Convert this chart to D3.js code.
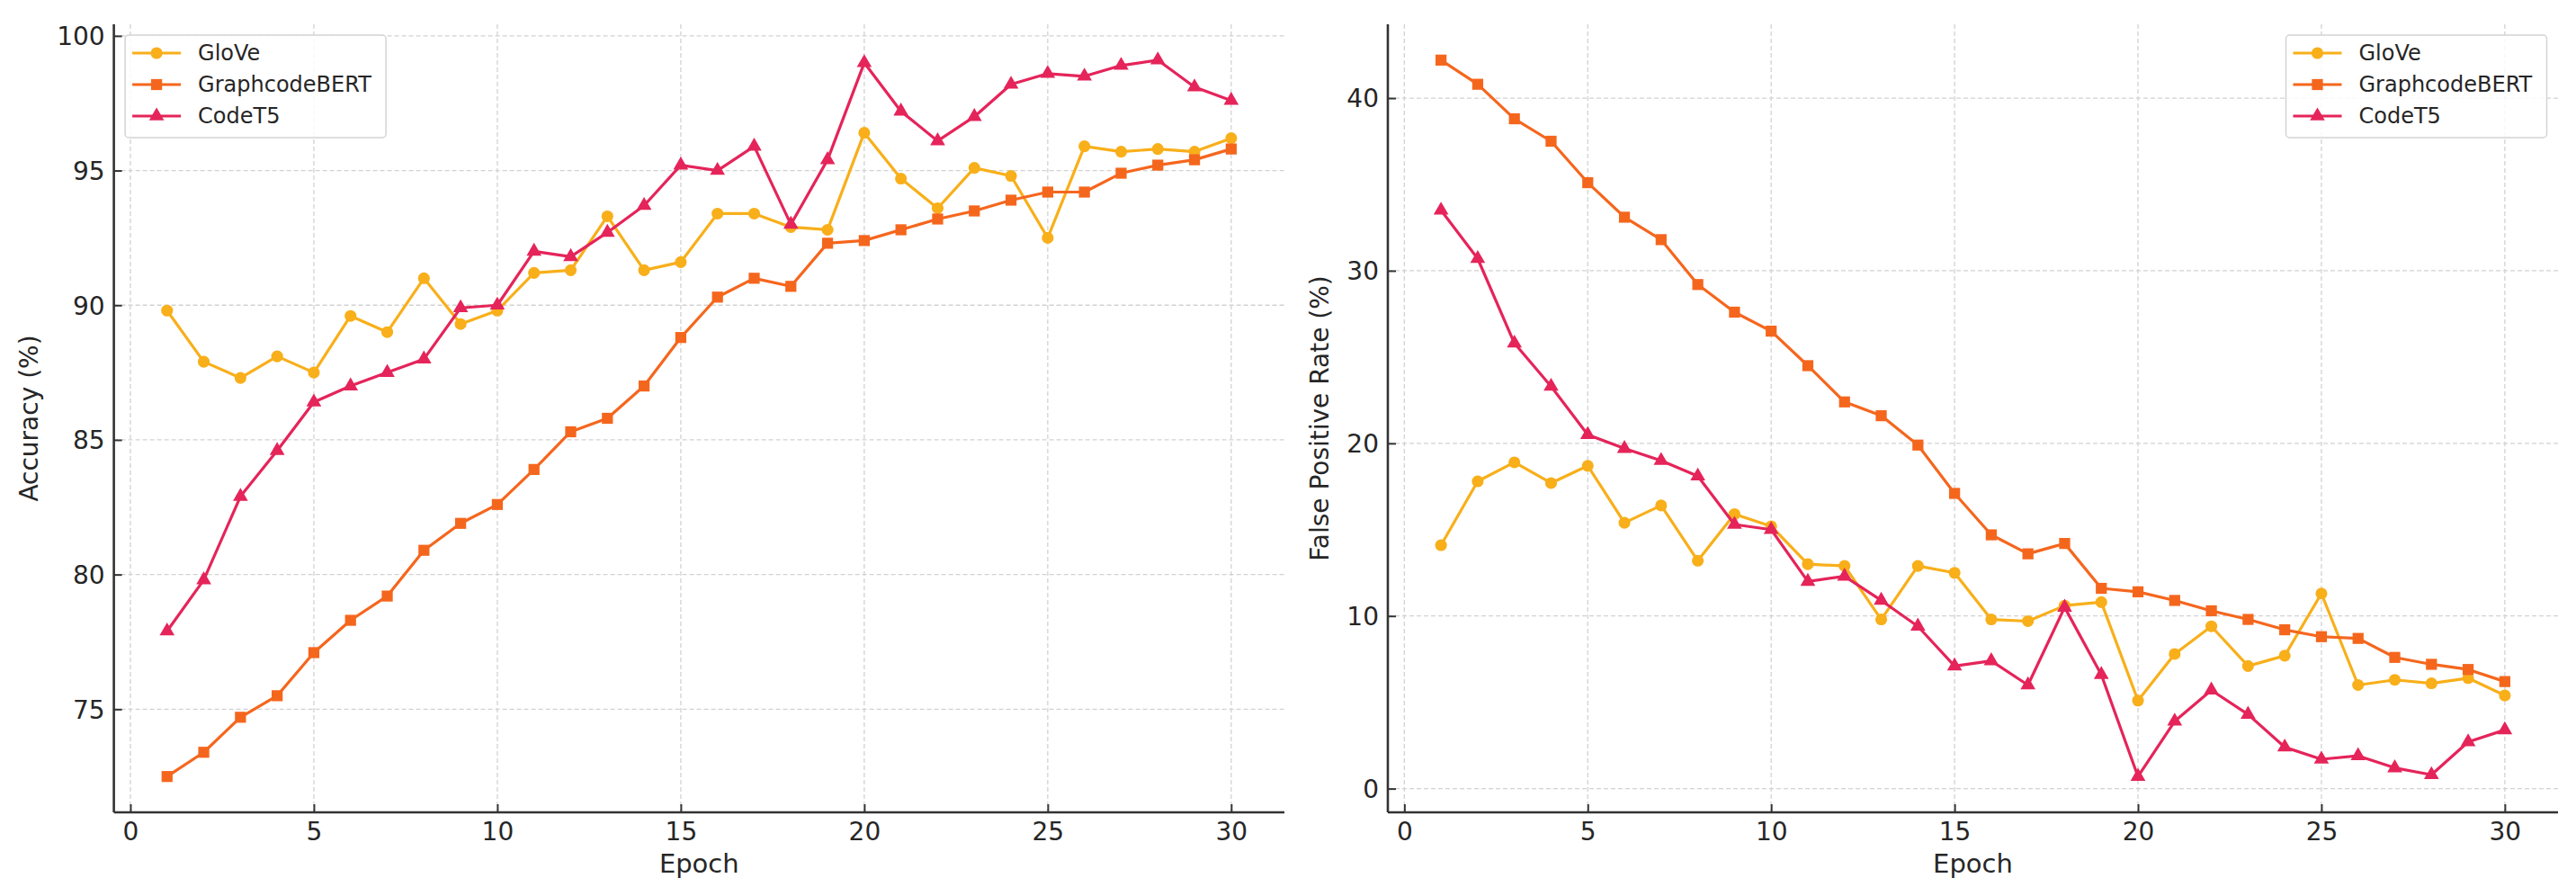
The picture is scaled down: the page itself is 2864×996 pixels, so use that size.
<!DOCTYPE html>
<html>
<head>
<meta charset="utf-8">
<script src="https://cdn.jsdelivr.net/npm/d3@7"></script>
<style>
  html, body { margin: 0; padding: 0; background: #ffffff; }
  svg { display: block; font-family: "DejaVu Sans", sans-serif; }
</style>
</head>
<body>
<svg id="chart" width="2864" height="996"></svg>
<script>
// ---------------- data ----------------
const epochs = [1,2,3,4,5,6,7,8,9,10,11,12,13,14,15,16,17,18,19,20,21,22,23,24,25,26,27,28,29,30];
const seriesNames = ["GloVe", "GraphcodeBERT", "CodeT5"];

const accGloVe   = [89.8,87.9,87.3,88.1,87.5,89.6,89.0,91.0,89.3,89.8,91.2,91.3,93.3,91.3,91.6,93.4,93.4,92.9,92.8,96.4,94.7,93.6,95.1,94.8,92.5,95.9,95.7,95.8,95.7,96.2];
const accGraph   = [72.5,73.4,74.7,75.5,77.1,78.3,79.2,80.9,81.9,82.6,83.9,85.3,85.8,87.0,88.8,90.3,91.0,90.7,92.3,92.4,92.8,93.2,93.5,93.9,94.2,94.2,94.9,95.2,95.4,95.8];
const accCodeT5  = [77.9,79.8,82.9,84.6,86.4,87.0,87.5,88.0,89.9,90.0,92.0,91.8,92.7,93.7,95.2,95.0,95.9,93.0,95.4,99.0,97.2,96.1,97.0,98.2,98.6,98.5,98.9,99.1,98.1,97.6];

const fprGloVe   = [14.1,17.8,18.9,17.7,18.7,15.4,16.4,13.2,15.9,15.2,13.0,12.9,9.8,12.9,12.5,9.8,9.7,10.6,10.8,5.1,7.8,9.4,7.1,7.7,11.3,6.0,6.3,6.1,6.4,5.4];
const fprGraph   = [42.2,40.8,38.8,37.5,35.1,33.1,31.8,29.2,27.6,26.5,24.5,22.4,21.6,19.9,17.1,14.7,13.6,14.2,11.6,11.4,10.9,10.3,9.8,9.2,8.8,8.7,7.6,7.2,6.9,6.2];
const fprCodeT5  = [33.5,30.7,25.8,23.3,20.5,19.7,19.0,18.1,15.3,15.0,12.0,12.3,10.9,9.4,7.1,7.4,6.0,10.5,6.6,0.7,3.9,5.7,4.3,2.4,1.7,1.9,1.2,0.8,2.7,3.4];

const xTicks    = [0,5,10,15,20,25,30];
const accTicks  = [75,80,85,90,95,100];
const fprTicks  = [0,10,20,30,40];

const xLabel    = "Epoch";
const accLabel  = "Accuracy (%)";
const fprLabel  = "False Positive Rate (%)";

// ---------------- styles ----------------
const colors  = {"GloVe": "#F8AF1A", "GraphcodeBERT": "#F5661D", "CodeT5": "#E5245A"};
const symbols = {"GloVe": d3.symbolCircle, "GraphcodeBERT": d3.symbolSquare, "CodeT5": d3.symbolTriangle};
const symSize = {"GloVe": 135, "GraphcodeBERT": 150, "CodeT5": 120};

const svg = d3.select("#chart");
const plotTop = 27, plotBottom = 903;

function pad(ext) { const p = (ext[1] - ext[0]) * 0.05; return [ext[0] - p, ext[1] + p]; }

function panel(opts) {
  const g = svg.append("g");
  const x = d3.scaleLinear().domain(pad(d3.extent(epochs))).range([opts.x0, opts.x1]);
  const allVals = opts.series.flatMap(s => s.values);
  const y = d3.scaleLinear().domain(pad(d3.extent(allVals))).range([plotBottom, plotTop]);

  // grid
  const grid = g.append("g").attr("stroke", "#d2d2d2").attr("stroke-width", 1.3)
    .attr("stroke-dasharray", "5,3").attr("fill", "none");
  xTicks.forEach(t => grid.append("line").attr("x1", x(t)).attr("x2", x(t)).attr("y1", plotTop).attr("y2", plotBottom));
  opts.yTicks.forEach(t => grid.append("line").attr("x1", opts.x0).attr("x2", opts.x1).attr("y1", y(t)).attr("y2", y(t)));

  // series
  const line = d3.line().x((d, i) => x(epochs[i])).y(d => y(d));
  opts.series.forEach(s => {
    g.append("path").datum(s.values).attr("d", line)
      .attr("fill", "none").attr("stroke", colors[s.name]).attr("stroke-width", 3.2)
      .attr("stroke-linejoin", "round");
    g.append("g").selectAll("path").data(s.values).join("path")
      .attr("transform", (d, i) => `translate(${x(epochs[i])},${y(d)})`)
      .attr("d", d3.symbol().type(symbols[s.name]).size(symSize[s.name]))
      .attr("fill", colors[s.name]);
  });

  // axes via d3 axis generators
  const xAxis = d3.axisBottom(x).tickValues(xTicks).tickSize(-9).tickPadding(19).tickFormat(d3.format("d"));
  const yAxis = d3.axisLeft(y).tickValues(opts.yTicks).tickSize(-9).tickPadding(19).tickFormat(d3.format("d"));
  const gx = g.append("g").attr("transform", `translate(0,${plotBottom})`).call(xAxis);
  const gy = g.append("g").attr("transform", `translate(${opts.x0},0)`).call(yAxis);
  [gx, gy].forEach(a => {
    a.select(".domain").attr("stroke", "#333").attr("stroke-width", 2.6);
    a.selectAll(".tick line").attr("stroke", "#333").attr("stroke-width", 2);
    a.selectAll(".tick text").attr("fill", "#262626").attr("font-size", 28)
      .attr("font-family", "DejaVu Sans, sans-serif");
  });
  gx.select(".domain").attr("d", `M${opts.x0},0H${opts.x1}`);
  gy.select(".domain").attr("d", `M0,${plotTop}V${plotBottom}`);
  gx.selectAll(".tick text").attr("dy", null).attr("y", 31);
  gy.selectAll(".tick text").attr("x", -10).attr("dy", "0.35em");

  // axis labels
  g.append("text").attr("x", (opts.x0 + opts.x1) / 2).attr("y", 970)
    .attr("text-anchor", "middle").attr("font-size", 29).attr("fill", "#262626").text(xLabel);
  g.append("text").attr("transform", `translate(${opts.labelX},${(plotTop + plotBottom) / 2}) rotate(-90)`)
    .attr("text-anchor", "middle").attr("font-size", 28).attr("fill", "#262626").text(opts.yLabel);

  // legend
  const lx = opts.legendLeft ? opts.x0 + 12.5 : opts.x1 - 12.5 - 290;
  const leg = g.append("g").attr("transform", `translate(${lx},39)`);
  leg.append("rect").attr("width", 290).attr("height", 114).attr("rx", 4)
    .attr("fill", "#ffffff").attr("fill-opacity", 0.85).attr("stroke", "#d4d4d4").attr("stroke-width", 1.5);
  seriesNames.forEach((n, i) => {
    const cy = 20 + i * 35;
    leg.append("line").attr("x1", 8).attr("x2", 62).attr("y1", cy).attr("y2", cy)
      .attr("stroke", colors[n]).attr("stroke-width", 3.2);
    leg.append("path").attr("transform", `translate(35,${cy})`)
      .attr("d", d3.symbol().type(symbols[n]).size(symSize[n])).attr("fill", colors[n]);
    leg.append("text").attr("x", 81).attr("y", cy).attr("dy", "0.35em")
      .attr("font-size", 24).attr("fill", "#262626").text(n);
  });
}

panel({
  x0: 126.6, x1: 1428, yTicks: accTicks, yLabel: accLabel, labelX: 42, legendLeft: true,
  series: [{name: "GloVe", values: accGloVe}, {name: "GraphcodeBERT", values: accGraph}, {name: "CodeT5", values: accCodeT5}]
});
panel({
  x0: 1543, x1: 2844, yTicks: fprTicks, yLabel: fprLabel, labelX: 1477, legendLeft: false,
  series: [{name: "GloVe", values: fprGloVe}, {name: "GraphcodeBERT", values: fprGraph}, {name: "CodeT5", values: fprCodeT5}]
});
</script>
</body>
</html>
